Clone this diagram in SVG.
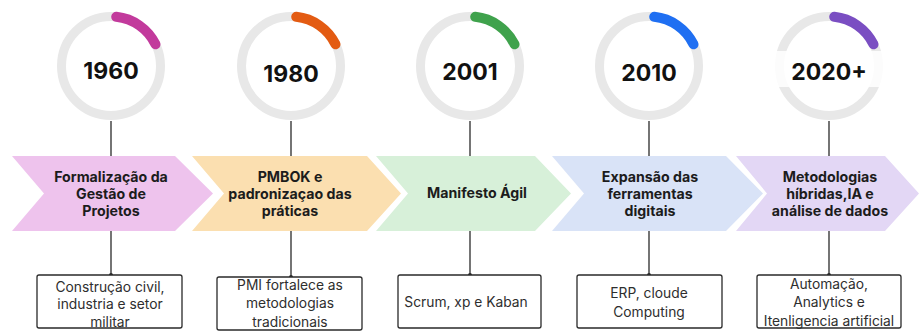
<svg xmlns="http://www.w3.org/2000/svg" width="919" height="333" viewBox="0 0 919 333">
  <style>
    .ring { fill: none; stroke: #e8e8e8; stroke-width: 9; }
    .arc { fill: none; stroke-width: 10; stroke-linecap: round; }
    .year { font-family: Inter, "Liberation Sans", sans-serif; font-weight: 700; font-size: 23px; fill: #111; text-anchor: middle; }
    .band text { font-family: Inter, "Liberation Sans", sans-serif; font-weight: 700; font-size: 14.2px; fill: #1c1c1c; text-anchor: middle; }
    .box { fill: #fff; stroke: #2a2a2a; stroke-width: 1.3; }
    .note { font-family: Inter, "Liberation Sans", sans-serif; font-size: 13.8px; fill: #2e2e2e; text-anchor: middle; }
    .link { stroke: #3a3a3a; stroke-width: 1.4; fill: none; }
    .dot { fill: #2a2a2a; }
  </style>
  <defs>
    <path id="arcShape" d="M 5.2 -49.2 A 49.5 49.5 0 0 1 44.5 -21.7"/>
  </defs>

  <rect width="919" height="333" fill="#ffffff"/>

  <!-- connectors: circle to band, band to note box -->
  <g id="connectors">
    <line class="link" x1="111" y1="121" x2="111" y2="156"/>
    <line class="link" x1="111" y1="231" x2="111" y2="275"/>
    <circle class="dot" cx="111" cy="275" r="2"/>
    <line class="link" x1="291" y1="121" x2="291" y2="156"/>
    <line class="link" x1="291" y1="231" x2="291" y2="277"/>
    <circle class="dot" cx="291" cy="277" r="2"/>
    <line class="link" x1="470" y1="121" x2="470" y2="156"/>
    <line class="link" x1="470" y1="231" x2="470" y2="275"/>
    <circle class="dot" cx="470" cy="275" r="2"/>
    <line class="link" x1="649" y1="121" x2="649" y2="156"/>
    <line class="link" x1="649" y1="231" x2="649" y2="275"/>
    <circle class="dot" cx="649" cy="275" r="2"/>
    <line class="link" x1="829" y1="121" x2="829" y2="156"/>
    <line class="link" x1="829" y1="231" x2="829" y2="275"/>
    <circle class="dot" cx="829" cy="275" r="2"/>
  </g>

  <!-- year rings -->
  <g id="year-1960" transform="translate(111,66)">
    <circle class="ring" r="49.5"/>
    <use href="#arcShape" class="arc" stroke="#c23a9c"/>
    <text class="year" y="13">1960</text>
  </g>
  <g id="year-1980" transform="translate(291,66)">
    <circle class="ring" r="49.5"/>
    <use href="#arcShape" class="arc" stroke="#e35b12"/>
    <text class="year" y="16">1980</text>
  </g>
  <g id="year-2001" transform="translate(470,66)">
    <circle class="ring" r="49.5"/>
    <use href="#arcShape" class="arc" stroke="#3fa24c"/>
    <text class="year" y="14">2001</text>
  </g>
  <g id="year-2010" transform="translate(649,66)">
    <circle class="ring" r="49.5"/>
    <use href="#arcShape" class="arc" stroke="#1f6ff2"/>
    <text class="year" y="15">2010</text>
  </g>
  <g id="year-2020" transform="translate(829,66)">
    <circle class="ring" r="49.5"/>
    <rect x="-60" y="-15" width="120" height="36" fill="#ffffff" opacity="0.85"/>
    <use href="#arcShape" class="arc" stroke="#7a4ec2"/>
    <text class="year" y="14">2020+</text>
  </g>

  <!-- chevron band -->
  <g id="phase-1" class="band">
    <polygon points="12,156 175,156 213,193.5 175,231 12,231 44,193.5" fill="#eec3ed"/>
    <text x="111" y="182">Formalização da</text>
    <text x="111" y="199">Gestão de</text>
    <text x="111" y="216">Projetos</text>
  </g>
  <g id="phase-2" class="band">
    <polygon points="192,156 367,156 401,193.5 367,231 192,231 224,193.5" fill="#fbdfb0"/>
    <text x="290" y="182">PMBOK e</text>
    <text x="290" y="199">padronizaçao das</text>
    <text x="290" y="216">práticas</text>
  </g>
  <g id="phase-3" class="band">
    <polygon points="376,156 535,156 571,193.5 535,231 376,231 408,193.5" fill="#d7f0d9"/>
    <text x="477" y="198">Manifesto Ágil</text>
  </g>
  <g id="phase-4" class="band">
    <polygon points="552,156 726,156 763,193.5 726,231 552,231 584,193.5" fill="#d9e3f7"/>
    <text x="650" y="182">Expansão das</text>
    <text x="650" y="199">ferramentas</text>
    <text x="650" y="216">digitais</text>
  </g>
  <g id="phase-5" class="band">
    <polygon points="736,156 885,156 919,193.5 885,231 736,231 767,193.5" fill="#e3d7f5"/>
    <text x="830" y="182">Metodologias</text>
    <text x="830" y="199">híbridas,IA e</text>
    <text x="830" y="216">análise de dados</text>
  </g>

  <!-- note boxes -->
  <g id="note-1">
    <rect class="box" x="37" y="275" width="145" height="53" rx="2"/>
    <text class="note" x="110" y="292">Construção civil,</text>
    <text class="note" x="110" y="309">industria e setor</text>
    <text class="note" x="110" y="327">militar</text>
  </g>
  <g id="note-2">
    <rect class="box" x="217" y="277" width="145" height="53" rx="2"/>
    <text class="note" x="290" y="290">PMI fortalece as</text>
    <text class="note" x="290" y="308">metodologias</text>
    <text class="note" x="290" y="327">tradicionais</text>
  </g>
  <g id="note-3">
    <rect class="box" x="398" y="275" width="143" height="53" rx="2"/>
    <text class="note" x="466" y="307">Scrum, xp e Kaban</text>
  </g>
  <g id="note-4">
    <rect class="box" x="577" y="275" width="145" height="53" rx="2"/>
    <text class="note" x="649" y="298">ERP, cloude</text>
    <text class="note" x="649" y="317">Computing</text>
  </g>
  <g id="note-5">
    <rect class="box" x="757" y="275" width="144" height="53" rx="2"/>
    <text class="note" x="829" y="289">Automação,</text>
    <text class="note" x="829" y="307">Analytics e</text>
    <text class="note" x="829" y="326">Itenligencia artificial</text>
  </g>
</svg>
